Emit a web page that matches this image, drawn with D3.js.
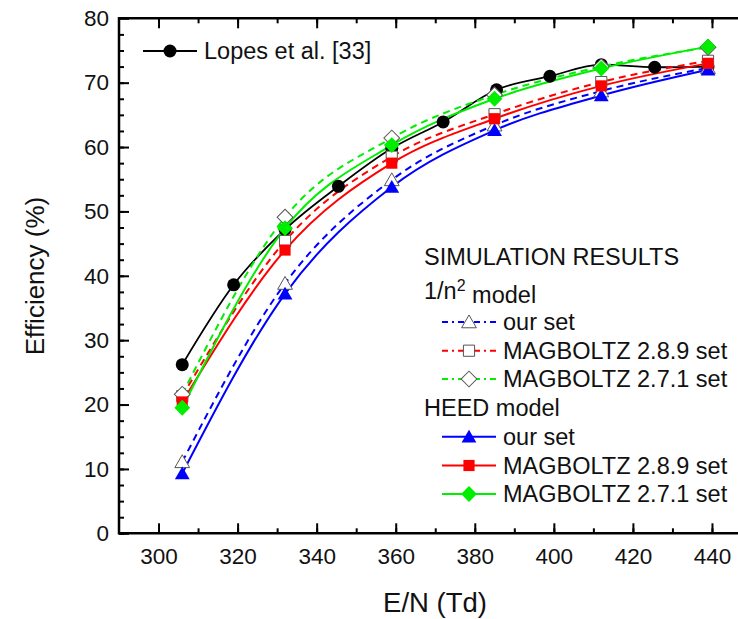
<!DOCTYPE html>
<html>
<head>
<meta charset="utf-8">
<script src="https://cdn.jsdelivr.net/npm/d3@7"></script>
<style>
  body { margin: 0; background: #fff; overflow: hidden; }
  svg { display: block; }
  text { font-family: "Liberation Sans", Arial, sans-serif; fill: #111; }
</style>
</head>
<body>
<div id="chart"></div>
<script>
// Chart size
var svgWidth = 738;
var svgHeight = 619;

// Data
var lopesX = [306, 319, 332, 345.5, 359, 372, 385.5, 399, 412, 425.5, 439];
var lopesY = [26.2, 38.6, 47.2, 53.9, 59.8, 63.9, 68.9, 71.0, 72.8, 72.4, 72.5];

var simX = [306, 332, 359, 385, 412, 439];
// 1/n^2 model
var n2Our = [11.1, 38.8, 54.9, 63.4, 68.7, 72.3];
var n2Mag289 = [21.3, 45.4, 58.5, 65.1, 70.1, 73.4];
var n2Mag271 = [21.6, 49.1, 61.4, 68.1, 72.5, 75.5];
// HEED model
var heedOur = [9.3, 37.2, 53.8, 62.6, 68.0, 72.0];
var heedMag289 = [20.4, 44.0, 57.5, 64.4, 69.5, 73.0];
var heedMag271 = [19.5, 47.4, 60.3, 67.5, 72.2, 75.6];

var xTicks = [300, 320, 340, 360, 380, 400, 420, 440];
var yTicks = [0, 10, 20, 30, 40, 50, 60, 70, 80];

var setNames = ["our set", "MAGBOLTZ 2.8.9 set", "MAGBOLTZ 2.7.1 set"];

var svg = d3.select("#chart")
  .append("svg")
  .attr("width", svgWidth)
  .attr("height", svgHeight);

// Scales (right edge of the frame falls outside the picture)
var x = d3.scaleLinear().domain([290, 450]).range([119, 751.5]);
var y = d3.scaleLinear().domain([0, 80]).range([533.3, 18.3]);

var blue = "#0000ff", red = "#ff0000", green = "#00ee00";

// Series definitions
var series = [
  { xs: simX, ys: n2Our, color: blue, dash: "7,5", shape: "tri", filled: false },
  { xs: simX, ys: n2Mag289, color: red, dash: "7,5", shape: "sq", filled: false },
  { xs: simX, ys: n2Mag271, color: green, dash: "7,5", shape: "dia", filled: false },
  { xs: simX, ys: heedOur, color: blue, dash: null, shape: "tri", filled: true },
  { xs: simX, ys: heedMag289, color: red, dash: null, shape: "sq", filled: true },
  { xs: simX, ys: heedMag271, color: green, dash: null, shape: "dia", filled: true }
];

// marker path + offset per shape
function shapePath(shape) {
  if (shape === "tri") return d3.symbol().type(d3.symbolTriangle).size(95)();
  return d3.symbol().type(d3.symbolSquare).size(125)();
}
function shapeTransform(shape, px, py) {
  if (shape === "tri") return `translate(${px}, ${py + 1.5})`;
  if (shape === "dia") return `translate(${px}, ${py}) rotate(45)`;
  return `translate(${px}, ${py})`;
}

var line = d3.line()
  .x(d => x(d[0]))
  .y(d => y(d[1]))
  .curve(d3.curveMonotoneX);

var plot = svg.append("g");

// Lopes line
plot.append("path")
  .datum(d3.zip(lopesX, lopesY))
  .attr("d", line)
  .attr("fill", "none")
  .attr("stroke", "#000")
  .attr("stroke-width", 1.8);

// Simulation lines
series.forEach(function(s) {
  plot.append("path")
    .datum(d3.zip(s.xs, s.ys))
    .attr("d", line)
    .attr("fill", "none")
    .attr("stroke", s.color)
    .attr("stroke-width", 2)
    .attr("stroke-dasharray", s.dash);
});

// Lopes points
plot.selectAll(".lopes")
  .data(d3.zip(lopesX, lopesY))
  .enter()
  .append("circle")
  .attr("cx", d => x(d[0]))
  .attr("cy", d => y(d[1]))
  .attr("r", 6.5)
  .attr("fill", "#000");

// Markers, open first then filled
series.forEach(function(s) {
  plot.selectAll(null)
    .data(d3.zip(s.xs, s.ys))
    .enter()
    .append("path")
    .attr("d", shapePath(s.shape))
    .attr("transform", d => shapeTransform(s.shape, x(d[0]), y(d[1])))
    .attr("fill", s.filled ? s.color : "#fff")
    .attr("stroke", s.filled ? "none" : "#555")
    .attr("stroke-width", 1);
});

// Axes: ticks only, frame lines drawn separately
var frame = svg.append("g");

var bottomMinor = d3.axisBottom(x).tickValues(d3.range(300, 450, 10)).tickSizeInner(-5).tickSizeOuter(0).tickFormat("");
var bottomAxis = d3.axisBottom(x).tickValues(xTicks).tickSizeInner(-10).tickSizeOuter(0).tickPadding(12);
var topMinor = d3.axisTop(x).tickValues(d3.range(300, 450, 10)).tickSizeInner(-5).tickSizeOuter(0).tickFormat("");
var topMajor = d3.axisTop(x).tickValues(xTicks).tickSizeInner(-10).tickSizeOuter(0).tickFormat("");
var leftMinor = d3.axisLeft(y).tickValues(d3.range(0, 80, 2.5)).tickSizeInner(-5).tickSizeOuter(0).tickFormat("");
var leftAxis = d3.axisLeft(y).tickValues(yTicks).tickSizeInner(-10).tickSizeOuter(0).tickPadding(10);

function styleAxis(g) {
  g.select(".domain").remove();
  g.selectAll(".tick line").attr("stroke-width", 2).attr("stroke", "#000");
  g.selectAll(".tick text").style("font-size", "22.5px").attr("fill", "#111");
}

frame.append("g").attr("transform", "translate(0,533.3)").call(bottomMinor).call(styleAxis);
frame.append("g").attr("transform", "translate(0,533.3)").call(bottomAxis).call(styleAxis)
  .selectAll(".tick text").attr("dy", "0.85em");
frame.append("g").attr("transform", "translate(0,18.3)").call(topMinor).call(styleAxis);
frame.append("g").attr("transform", "translate(0,18.3)").call(topMajor).call(styleAxis);
frame.append("g").attr("transform", "translate(119,0)").call(leftMinor).call(styleAxis);
frame.append("g").attr("transform", "translate(119,0)").call(leftAxis).call(styleAxis);

// Frame: left, top, bottom (right side is off the picture)
frame.append("path")
  .attr("d", `M${svgWidth},${y(80)}H${x(290)}V${y(0)}H${svgWidth}`)
  .attr("fill", "none")
  .attr("stroke", "#000")
  .attr("stroke-width", 2.5);

// Axis titles
svg.append("text")
  .attr("transform", "translate(44, 276) rotate(-90)")
  .attr("text-anchor", "middle")
  .style("font-size", "26px")
  .text("Efficiency (%)");

svg.append("text")
  .attr("x", 435)
  .attr("y", 612)
  .attr("text-anchor", "middle")
  .style("font-size", "27.5px")
  .text("E/N (Td)");

// Legends
var leg = svg.append("g");
var legFont = "23.5px";

function legendItem(yy, x0, color, dash, shape, filled, label) {
  leg.append("line")
    .attr("x1", x0).attr("x2", x0 + 54)
    .attr("y1", yy).attr("y2", yy)
    .attr("stroke", color)
    .attr("stroke-width", 2)
    .attr("stroke-dasharray", dash);
  if (shape === "circle") {
    leg.append("circle").attr("cx", x0 + 27).attr("cy", yy).attr("r", 6.5).attr("fill", "#000");
  } else {
    leg.append("path")
      .attr("d", shapePath(shape))
      .attr("transform", shapeTransform(shape, x0 + 27, yy))
      .attr("fill", filled ? color : "#fff")
      .attr("stroke", filled ? "none" : "#555");
  }
  leg.append("text")
    .attr("x", x0 + 61)
    .attr("y", yy)
    .attr("dy", "0.36em")
    .style("font-size", legFont)
    .text(label);
}

legendItem(51, 143, "#000", null, "circle", true, "Lopes et al. [33]");

leg.append("text").attr("x", 424).attr("y", 257).attr("dy", "0.36em")
  .style("font-size", legFont).text("SIMULATION RESULTS");
var nt = leg.append("text").attr("x", 424).attr("y", 291).attr("dy", "0.36em")
  .style("font-size", legFont);
nt.append("tspan").text("1/n");
nt.append("tspan").attr("dy", "-0.5em").style("font-size", "16px").text("2");
nt.append("tspan").attr("dy", "0.5em").text(" model");

leg.append("text").attr("x", 424).attr("y", 408).attr("dy", "0.36em")
  .style("font-size", legFont).text("HEED model");

var rowY = [322, 350.7, 379, 436.7, 465.5, 494];
series.forEach(function(s, i) {
  legendItem(rowY[i], 442, s.color, s.dash ? "6,4,2,4" : null, s.shape, s.filled, setNames[i % 3]);
});
</script>
</body>
</html>
